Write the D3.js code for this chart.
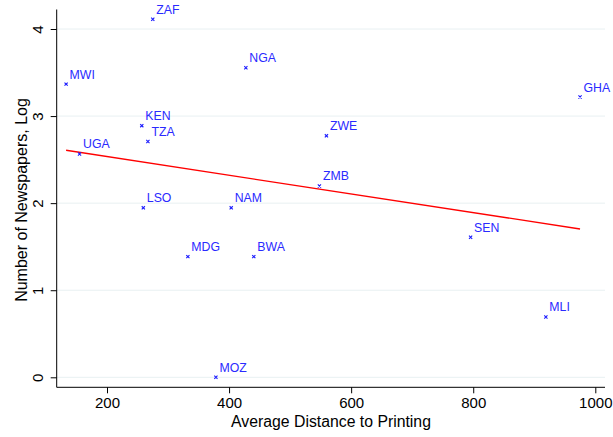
<!DOCTYPE html>
<html><head><meta charset="utf-8">
<script src="https://cdn.jsdelivr.net/npm/d3@7"></script>
<style>body{margin:0;background:#fff}svg{display:block}text{font-family:"Liberation Sans",Arial,sans-serif}</style>
</head><body><svg id="c" width="613" height="437"></svg>
<script>
const countries = ["ZAF","MWI","NGA","KEN","TZA","UGA","LSO","NAM","GHA","ZWE","ZMB","MDG","BWA","MOZ","SEN","MLI"];
const distance = [275,133,427.5,257,267,155,259.5,403.5,975,559.5,548,332.5,440.5,378.4,795.7,919];
const logNewspapers = [4.111,3.367,3.555,2.890,2.708,2.565,1.946,1.946,3.219,2.773,2.197,1.386,1.386,0,1.609,0.693];
const xTicks = [200,400,600,800,1000];
const yTicks = [0,1,2,3,4];

(function(){
const svg = d3.select("#c");
const x = d3.scaleLinear().domain([200,1000]).range([107,595.3]);
const y = d3.scaleLinear().domain([0,4]).range([377.3,29]);
const pLeft = 56.7, pBottom = 387.3, pRight = 605, pTop = 9.5;

svg.append("g").selectAll("line").data(yTicks).join("line")
  .attr("x1",pLeft).attr("x2",pRight).attr("y1",d=>y(d)).attr("y2",d=>y(d))
  .attr("stroke","#e8f0f2").attr("stroke-width",1);

const xAxis = d3.axisBottom(x).tickValues(xTicks).tickSize(6).tickPadding(4).tickFormat(d3.format("d"));
const gx = svg.append("g").attr("transform",`translate(0,${pBottom})`).call(xAxis);
gx.select(".domain").remove();
gx.append("line").attr("x1",pLeft).attr("x2",pRight).attr("stroke","#000");
gx.selectAll("text").attr("font-size",15).attr("fill","#000").attr("font-family","Liberation Sans, Arial, sans-serif");

const yAxis = d3.axisLeft(y).tickValues(yTicks).tickSize(6).tickFormat(d3.format("d"));
const gy = svg.append("g").attr("transform",`translate(${pLeft},0)`).call(yAxis);
gy.select(".domain").remove();
gy.append("line").attr("y1",pTop).attr("y2",pBottom).attr("stroke","#000");
gy.selectAll(".tick text").attr("font-size",15).attr("fill","#000")
  .attr("font-family","Liberation Sans, Arial, sans-serif")
  .attr("x",null).attr("dy",null).attr("text-anchor","middle")
  .attr("transform","translate(-13.5,0) rotate(-90)");

svg.append("text").attr("x",331).attr("y",427).attr("text-anchor","middle").attr("font-size",15.8).text("Average Distance to Printing");
svg.append("text").attr("transform","translate(26.5,200) rotate(-90)").attr("text-anchor","middle").attr("font-size",16).text("Number of Newspapers, Log");

const mx = d3.mean(distance), my = d3.mean(logNewspapers);
let sxy=0,sxx=0;
distance.forEach((d,i)=>{sxy+=(d-mx)*(logNewspapers[i]-my);sxx+=(d-mx)*(d-mx);});
const b = sxy/sxx, a = my - b*mx;
const [xmin,xmax] = d3.extent(distance);
svg.append("line").attr("x1",x(xmin)).attr("x2",x(xmax)).attr("y1",y(a+b*xmin)).attr("y2",y(a+b*xmax))
  .attr("stroke","#ff0000").attr("stroke-width",1.3);

const data = countries.map((c,i)=>({c,x:distance[i],y:logNewspapers[i]}));
const s = 1.6;
const pts = svg.append("g").selectAll("g").data(data).join("g")
  .attr("transform",d=>`translate(${x(d.x)},${y(d.y)})`);
pts.append("path").attr("d",`M${-s},${-s}L${s},${s}M${-s},${s}L${s},${-s}`).attr("stroke","#1a1aff").attr("stroke-width",1.1);
pts.append("text").attr("x",3.5).attr("y",-5.5).attr("font-size",12.3).attr("fill","#2a2aff").text(d=>d.c);
})();
</script></body></html>
